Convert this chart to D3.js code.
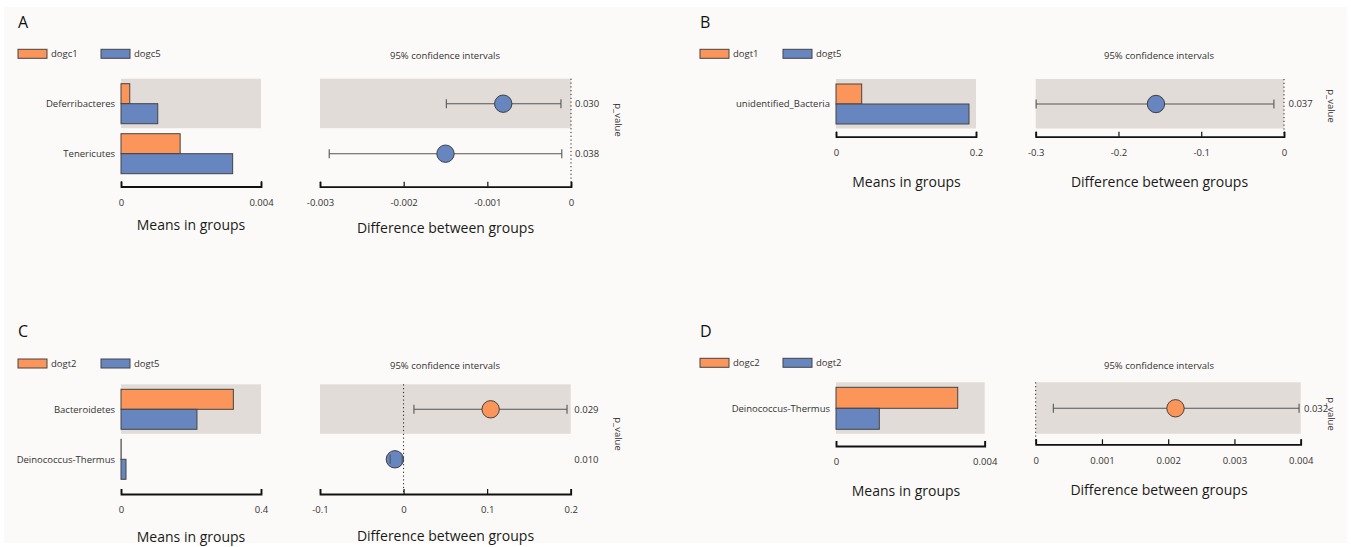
<!DOCTYPE html>
<html>
<head>
<meta charset="utf-8">
<script src="https://cdn.jsdelivr.net/npm/d3@7"></script>
<style>
  body { margin: 0; background: #fff; }
  svg { display: block; }
  text { font-family: 'Open Sans', 'Noto Sans', sans-serif; }
</style>
</head>
<body>
<svg width="1351" height="547"></svg>
<script>
// Data
const groupsA = ['dogc1', 'dogc5'];
const taxaA = ['Deferribacteres', 'Tenericutes'];
const meanA1 = [0.00025, 0.00169];
const meanA2 = [0.00105, 0.00319];
const diffA = [-0.00081, -0.00150];
const lowA = [-0.00149, -0.00289];
const highA = [-0.00012, -0.00011];
const pA = ['0.030', '0.038'];
const meanTicksA = [0, 0.004];
const diffTicksA = [-0.003, -0.002, -0.001, 0];

const groupsB = ['dogt1', 'dogt5'];
const taxaB = ['unidentified_Bacteria'];
const meanB1 = [0.0367];
const meanB2 = [0.190];
const diffB = [-0.1547];
const lowB = [-0.2995];
const highB = [-0.0122];
const pB = ['0.037'];
const meanTicksB = [0, 0.2];
const diffTicksB = [-0.3, -0.2, -0.1, 0];

const groupsC = ['dogt2', 'dogt5'];
const taxaC = ['Bacteroidetes', 'Deinococcus-Thermus'];
const meanC1 = [0.321, 0.0005];
const meanC2 = [0.217, 0.0143];
const diffC = [0.1042, -0.0104];
const lowC = [0.0124, -0.016];
const highC = [0.1956, -0.0016];
const pC = ['0.029', '0.010'];
const meanTicksC = [0, 0.4];
const diffTicksC = [-0.1, 0, 0.1, 0.2];

const groupsD = ['dogc2', 'dogt2'];
const taxaD = ['Deinococcus-Thermus'];
const meanD1 = [0.003274];
const meanD2 = [0.001165];
const diffD = [0.00211];
const lowD = [0.000266];
const highD = [0.003975];
const pD = ['0.032'];
const meanTicksD = [0, 0.004];
const diffTicksD = [0, 0.001, 0.002, 0.003, 0.004];

// Colours
const orange = '#fb955a';
const blue = '#6785bf';
const band = '#e2dcd8';
const ink = '#333';

const svg = d3.select('svg');

svg.append('rect')
    .attr('x', 4).attr('y', 7)
    .attr('width', 1343).attr('height', 536)
    .attr('fill', '#fcfaf8');

// layout of each panel
const panels = [
    { letter: 'A', groups: groupsA, taxa: taxaA, m1: meanA1, m2: meanA2, diff: diffA, low: lowA, high: highA, p: pA,
      meanTicks: meanTicksA, diffTicks: diffTicksA,
      x0: 18, letterY: 28, legY: 49.3, meanRange: [121, 261], diffRange: [320, 571],
      rowTop: 78.7, rowH: 50, barH: 20, meanAxisY: 186.5, diffAxisY: 186.7,
      ciY: 59, ciX: 445, meanTitle: [191, 229.5], diffTitle: [445.5, 232.7],
      pX: 575, pv: [618, 120] },
    { letter: 'B', groups: groupsB, taxa: taxaB, m1: meanB1, m2: meanB2, diff: diffB, low: lowB, high: highB, p: pB,
      meanTicks: meanTicksB, diffTicks: diffTicksB,
      x0: 700, letterY: 28, legY: 49.3, meanRange: [836, 976], diffRange: [1035.7, 1284],
      rowTop: 79, rowH: 50, barH: 20, meanAxisY: 136.7, diffAxisY: 136.7,
      ciY: 59, ciX: 1159, meanTitle: [906.5, 186.7], diffTitle: [1159.5, 186.7],
      pX: 1288.5, pv: [1331.7, 106] },
    { letter: 'C', groups: groupsC, taxa: taxaC, m1: meanC1, m2: meanC2, diff: diffC, low: lowC, high: highC, p: pC,
      meanTicks: meanTicksC, diffTicks: diffTicksC,
      x0: 18, letterY: 337, legY: 359, meanRange: [121, 261], diffRange: [320, 570.7],
      rowTop: 384.3, rowH: 50, barH: 20, meanAxisY: 494, diffAxisY: 494,
      ciY: 368.5, ciX: 445, meanTitle: [191, 541.7], diffTitle: [445.5, 541],
      pX: 574.3, pv: [618, 434] },
    { letter: 'D', groups: groupsD, taxa: taxaD, m1: meanD1, m2: meanD2, diff: diffD, low: lowD, high: highD, p: pD,
      meanTicks: meanTicksD, diffTicks: diffTicksD,
      x0: 700, letterY: 337, legY: 358.3, meanRange: [836, 984.7], diffRange: [1035.7, 1300.7],
      rowTop: 382.3, rowH: 52, barH: 21, meanAxisY: 446, diffAxisY: 444.3,
      ciY: 368.5, ciX: 1159, meanTitle: [906, 495.7], diffTitle: [1159, 495],
      pX: 1304, pv: [1331.7, 414] }
];

const tick_format = d => d === 0 ? '0' : String(+d.toPrecision(6));

const draw_axis = (g, scale, ticks, y) => {
    const axis = d3.axisBottom(scale)
        .tickValues(ticks)
        .tickSizeInner(-5)
        .tickSizeOuter(-5)
        .tickPadding(12.5)
        .tickFormat(tick_format);
    g.append('g')
        .attr('transform', `translate(0,${y})`)
        .call(axis)
        .call(a => a.select('.domain').attr('stroke', '#111').attr('stroke-width', 1.8))
        .call(a => a.selectAll('.tick line').attr('stroke', '#111').attr('stroke-width', 1.2))
        .call(a => a.selectAll('.tick text')
            .attr('fill', ink)
            .style('font-family', "'Open Sans', sans-serif")
            .style('font-size', '9.5px'));
};

const render = d => {
    const g = svg.append('g');
    const rows = d.taxa.map((t, i) => i);

    // Panel letter
    g.append('text')
        .attr('x', d.x0).attr('y', d.letterY)
        .attr('fill', '#111')
        .attr('font-size', '16px')
        .text(d.letter);

    // Legend
    d.groups.forEach((name, i) => {
        const lx = d.x0 + i * 83;
        g.append('rect')
            .attr('x', lx).attr('y', d.legY)
            .attr('width', 29).attr('height', 9)
            .attr('fill', i === 0 ? orange : blue)
            .attr('stroke', '#444').attr('stroke-width', 1);
        g.append('text')
            .attr('x', lx + 33).attr('y', d.legY + 4.5)
            .attr('dy', '0.35em')
            .attr('fill', ink)
            .attr('font-size', '9.5px')
            .text(name);
    });

    const x_mean = d3.scaleLinear().domain(d3.extent(d.meanTicks)).range(d.meanRange);
    const x_diff = d3.scaleLinear().domain(d3.extent(d.diffTicks)).range(d.diffRange);
    const y_row = i => d.rowTop + i * d.rowH;

    // Shaded bands on odd rows
    rows.filter(i => i % 2 === 0).forEach(i => {
        g.append('rect')
            .attr('x', d.meanRange[0]).attr('y', y_row(i))
            .attr('width', d.meanRange[1] - d.meanRange[0]).attr('height', d.rowH - 0.5)
            .attr('fill', band);
        g.append('rect')
            .attr('x', d.diffRange[0]).attr('y', y_row(i))
            .attr('width', d.diffRange[1] - d.diffRange[0]).attr('height', d.rowH - 0.5)
            .attr('fill', band);
    });

    // Bars
    const pad = (d.rowH - 2 * d.barH) / 2;
    rows.forEach(i => {
        [d.m1[i], d.m2[i]].forEach((v, k) => {
            g.append('rect')
                .attr('x', x_mean(0))
                .attr('y', y_row(i) + pad + k * d.barH)
                .attr('width', x_mean(v) - x_mean(0))
                .attr('height', d.barH)
                .attr('fill', k === 0 ? orange : blue)
                .attr('stroke', '#444').attr('stroke-width', 1);
        });
        g.append('text')
            .attr('x', d.meanRange[0] - 6)
            .attr('y', y_row(i) + d.rowH / 2)
            .attr('dy', '0.35em')
            .attr('text-anchor', 'end')
            .attr('fill', ink)
            .attr('font-size', '9.5px')
            .text(d.taxa[i]);
    });

    // Zero line
    g.append('line')
        .attr('x1', x_diff(0)).attr('x2', x_diff(0))
        .attr('y1', d.rowTop).attr('y2', d.diffAxisY - 1)
        .attr('stroke', '#222').attr('stroke-width', 1)
        .attr('stroke-dasharray', '1.2,2.6');

    // Confidence intervals
    rows.forEach(i => {
        const cy = y_row(i) + d.rowH / 2;
        g.append('line')
            .attr('x1', x_diff(d.low[i])).attr('x2', x_diff(d.high[i]))
            .attr('y1', cy).attr('y2', cy)
            .attr('stroke', '#555').attr('stroke-width', 1.1);
        g.append('circle')
            .attr('cx', x_diff(d.diff[i])).attr('cy', cy)
            .attr('r', 8.7)
            .attr('fill', d.diff[i] > 0 ? orange : blue)
            .attr('stroke', '#333').attr('stroke-width', 0.9);
        [d.low[i], d.high[i]].forEach(v => {
            g.append('line')
                .attr('x1', x_diff(v)).attr('x2', x_diff(v))
                .attr('y1', cy - 4.5).attr('y2', cy + 4.5)
                .attr('stroke', '#555').attr('stroke-width', 1.1);
        });
        g.append('text')
            .attr('x', d.pX).attr('y', cy)
            .attr('dy', '0.35em')
            .attr('fill', ink)
            .attr('font-size', '9.5px')
            .text(d.p[i]);
    });

    // Axes
    draw_axis(g, x_mean, d.meanTicks, d.meanAxisY);
    draw_axis(g, x_diff, d.diffTicks, d.diffAxisY);

    // Titles
    g.append('text')
        .attr('x', d.ciX).attr('y', d.ciY)
        .attr('text-anchor', 'middle')
        .attr('fill', ink)
        .attr('font-size', '9.5px')
        .text('95% confidence intervals');
    g.append('text')
        .attr('x', d.meanTitle[0]).attr('y', d.meanTitle[1])
        .attr('text-anchor', 'middle')
        .attr('fill', '#1a1a1a')
        .attr('font-size', '14px')
        .text('Means in groups');
    g.append('text')
        .attr('x', d.diffTitle[0]).attr('y', d.diffTitle[1])
        .attr('text-anchor', 'middle')
        .attr('fill', '#1a1a1a')
        .attr('font-size', '14px')
        .text('Difference between groups');
    g.append('text')
        .attr('transform', `translate(${d.pv[0]},${d.pv[1]}) rotate(90)`)
        .attr('dy', '0.35em')
        .attr('text-anchor', 'middle')
        .attr('fill', ink)
        .attr('font-size', '9.5px')
        .text('p_value');
};

panels.forEach(render);
</script>
</body>
</html>
